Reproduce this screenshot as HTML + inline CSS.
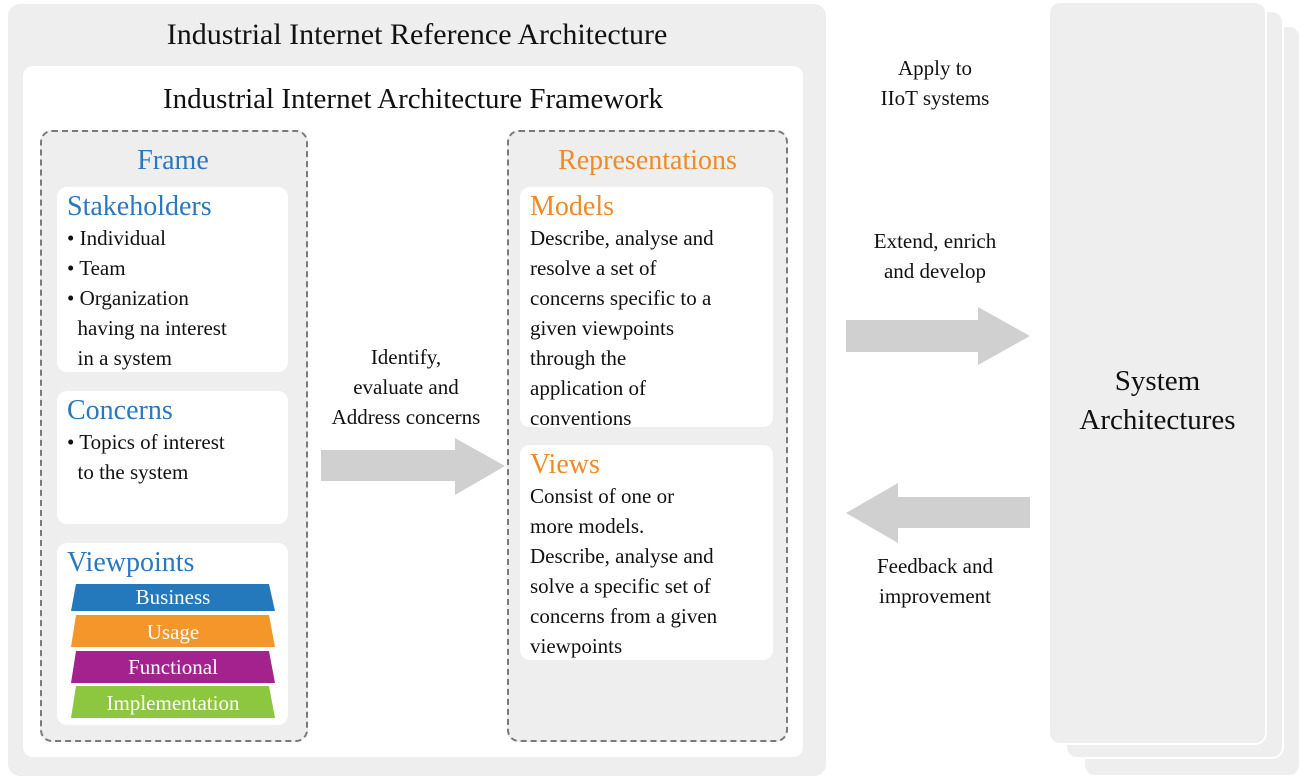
<!DOCTYPE html>
<html><head><meta charset="utf-8"><style>
body{margin:0;width:1300px;height:779px;background:#fff;position:relative;overflow:hidden;font-family:"Liberation Serif",serif;color:#111}
.a{position:absolute}
.t{position:absolute;white-space:nowrap}
.body{font-size:21px;line-height:30px}
.h{font-size:28px;line-height:32px}
.blue{color:#2a78bf}.or{color:#f08a24}
.card{position:absolute;background:#fff;border-radius:10px}
.dash{position:absolute;border:2px dashed #7a7a7a;border-radius:12px;background:#eeeeee}
</style></head><body>
<div class="a" style="left:1083px;top:25px;width:214px;height:748px;background:#eeeeee;border-radius:12px;border:2px solid #fff"></div>
<div class="a" style="left:1065px;top:10px;width:215px;height:745px;background:#eeeeee;border-radius:12px;border:2px solid #fff"></div>
<div class="a" style="left:1048px;top:1px;width:215px;height:740px;background:#eeeeee;border-radius:12px;border:2px solid #fff"></div>
<div class="t" style="left:1048px;top:362px;width:219px;text-align:center;font-size:29px;line-height:39px">System<br>Architectures</div>

<div class="a" style="left:8px;top:4px;width:818px;height:772px;background:#eeeeee;border-radius:12px"></div>
<div class="t" style="left:8px;top:17px;width:818px;text-align:center;font-size:30px;line-height:36px">Industrial Internet Reference Architecture</div>
<div class="card" style="left:23px;top:66px;width:780px;height:691px"></div>
<div class="t" style="left:23px;top:82px;width:780px;text-align:center;font-size:29px;line-height:34px">Industrial Internet Architecture Framework</div>

<div class="dash" style="left:40px;top:130px;width:264px;height:608px"></div>
<div class="t h blue" style="left:40px;top:145px;width:266px;text-align:center">Frame</div>
<div class="card" style="left:57px;top:187px;width:231px;height:185px"></div>
<div class="t h blue" style="left:67px;top:191px">Stakeholders</div>
<div class="t body" style="left:67px;top:223px">• Individual<br>• Team<br>• Organization<br>&nbsp;&nbsp;having na interest<br>&nbsp;&nbsp;in a system</div>
<div class="card" style="left:57px;top:391px;width:231px;height:133px"></div>
<div class="t h blue" style="left:67px;top:395px">Concerns</div>
<div class="t body" style="left:67px;top:427px">• Topics of interest<br>&nbsp;&nbsp;to the system</div>
<div class="card" style="left:57px;top:543px;width:231px;height:182px"></div>
<div class="t h blue" style="left:67px;top:547px">Viewpoints</div>
<svg class="a" style="left:0;top:0" width="1300" height="779">
<polygon points="76,584 269,584 275,611 71,611" fill="#2479bd"/>
<polygon points="76,615 269,615 275,647 71,647" fill="#f5962a"/>
<polygon points="76,651 269,651 275,683 71,683" fill="#a4228d"/>
<polygon points="76,686 269,686 275,718 71,718" fill="#8dc63f"/>
<polygon points="321,450 455,450 455,438 505,466 455,495 455,481 321,481" fill="#d0d0d0"/>
<polygon points="846,320 978,320 978,307 1030,336 978,365 978,352 846,352" fill="#d0d0d0"/>
<polygon points="1030,497 898,497 898,483 846,513 898,543 898,528 1030,528" fill="#d0d0d0"/>
</svg>
<div class="t" style="left:71px;top:584px;width:204px;text-align:center;color:#fff;font-size:21px;line-height:27px">Business</div>
<div class="t" style="left:71px;top:617px;width:204px;text-align:center;color:#fff;font-size:21px;line-height:30px">Usage</div>
<div class="t" style="left:71px;top:652px;width:204px;text-align:center;color:#fff;font-size:21px;line-height:30px">Functional</div>
<div class="t" style="left:71px;top:688px;width:204px;text-align:center;color:#fff;font-size:21px;line-height:30px">Implementation</div>

<div class="t body" style="left:306px;top:342px;width:200px;text-align:center">Identify,<br>evaluate and<br>Address concerns</div>

<div class="dash" style="left:507px;top:130px;width:277px;height:608px"></div>
<div class="t h or" style="left:507px;top:145px;width:281px;text-align:center">Representations</div>
<div class="card" style="left:520px;top:187px;width:253px;height:240px"></div>
<div class="t h or" style="left:530px;top:191px">Models</div>
<div class="t body" style="left:530px;top:223px">Describe, analyse and<br>resolve a set of<br>concerns specific to a<br>given viewpoints<br>through the<br>application of<br>conventions</div>
<div class="card" style="left:520px;top:445px;width:253px;height:215px"></div>
<div class="t h or" style="left:530px;top:449px">Views</div>
<div class="t body" style="left:530px;top:481px">Consist of one or<br>more models.<br>Describe, analyse and<br>solve a specific set of<br>concerns from a given<br>viewpoints</div>

<div class="t body" style="left:835px;top:53px;width:200px;text-align:center">Apply to<br>IIoT systems</div>
<div class="t body" style="left:835px;top:226px;width:200px;text-align:center">Extend, enrich<br>and develop</div>
<div class="t body" style="left:835px;top:551px;width:200px;text-align:center">Feedback and<br>improvement</div>
</body></html>
